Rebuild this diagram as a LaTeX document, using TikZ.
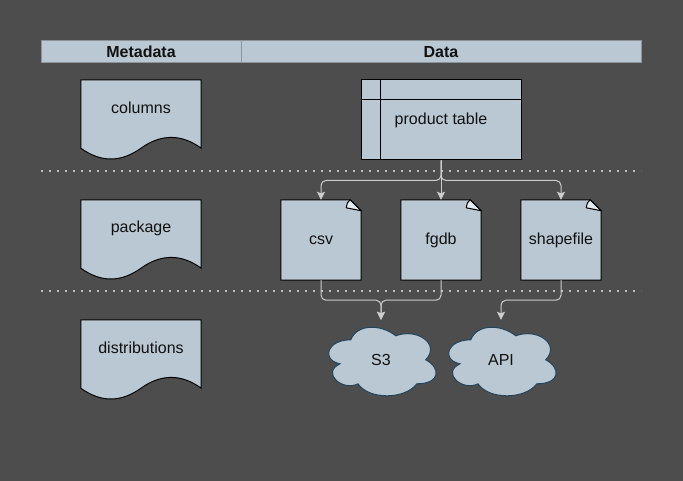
\documentclass[tikz,border=0pt]{standalone}
\usepackage{fontspec}
\setmainfont{Liberation Sans}
\usepackage{tikz}
\usepackage{xcolor}
\usetikzlibrary{arrows.meta,positioning,calc}
\definecolor{cBg}{HTML}{4D4D4D}
\definecolor{cFill}{HTML}{BAC8D3}
\definecolor{cFold}{HTML}{E4EBF0}
\definecolor{cEdge}{HTML}{CCCCCC}
\definecolor{cDot}{HTML}{C4C4C4}
\definecolor{cHdr}{HTML}{8C9499}
\definecolor{cCloud}{HTML}{23445D}
\definecolor{cInk}{HTML}{111111}
\pgfdeclarelayer{canvas}
\pgfdeclarelayer{shapes}
\pgfsetlayers{canvas,shapes,main}
\tikzset{
  lbl/.style     ={font=\fontsize{16pt}{18pt}\selectfont,text=cInk,inner sep=0pt},
  hdr/.style     ={lbl,font=\fontsize{16pt}{18pt}\selectfont\bfseries,draw=cHdr,
                   fill=cFill,minimum height=22pt,line width=1pt},
  docnode/.style ={lbl,minimum width=120pt,minimum height=56pt},
  filenode/.style={lbl,minimum width=80pt,minimum height=80pt},
  tblnode/.style ={lbl,draw=black,fill=cFill,line width=1pt,
                   minimum width=160pt,minimum height=80pt},
  cloudnode/.style={lbl,minimum width=120pt,minimum height=80pt},
  docline/.style ={draw=black,fill=cFill,line width=1pt},
  foldline/.style={draw=black,fill=cFold,line width=1pt,line join=round},
  cloudline/.style={draw=cCloud,fill=cFill,line width=1pt},
  conn/.style    ={-{Stealth[length=8pt,width=8pt,inset=1.5pt]},cEdge,
                   line width=1pt,rounded corners=5pt},
  sep/.style     ={cDot,line width=2pt,dash pattern=on 2pt off 6pt},
}
% drawn shapes round the named nodes
\newcommand\wavydoc[1]{%
  \begin{pgfonlayer}{shapes}
  \draw[docline] (#1.north west) -- (#1.north east) -- ([yshift=-12pt]#1.south east)
    .. controls ([xshift=-20pt,yshift=2.4pt]#1.south east)
    and ([xshift=-40pt,yshift=2.4pt]#1.south east) .. ([yshift=-12pt]#1.south)
    .. controls ([xshift=-20pt,yshift=-26.4pt]#1.south)
    and ([xshift=20pt,yshift=-26.4pt]#1.south west) .. ([yshift=-12pt]#1.south west)
    -- cycle;
  \end{pgfonlayer}}
\newcommand\foldfile[1]{%
  \begin{pgfonlayer}{shapes}
  \draw[docline] (#1.north west) -- ([xshift=-11pt]#1.north east)
    -- ([yshift=-11pt]#1.north east) -- (#1.south east) -- (#1.south west) -- cycle;
  \draw[foldline] ([xshift=-11pt]#1.north east)
    .. controls ([xshift=-14pt,yshift=-3pt]#1.north east) .. ([xshift=-15pt,yshift=-8pt]#1.north east)
    -- ([yshift=-11pt]#1.north east) -- cycle;
  \end{pgfonlayer}}
\newcommand\cloudshape[1]{%
  \begin{pgfonlayer}{shapes}
  \begin{scope}[shift={(#1.north west)},x=120pt,y=-80pt]
  \draw[cloudline] (0.25,0.25) .. controls (0.05,0.25) and (0,0.5) .. (0.16,0.55)
    .. controls (0,0.66) and (0.18,0.9) .. (0.31,0.8)
    .. controls (0.4,1) and (0.7,1) .. (0.8,0.8)
    .. controls (1,0.8) and (1,0.6) .. (0.875,0.5)
    .. controls (1,0.3) and (0.8,0.1) .. (0.625,0.2)
    .. controls (0.5,0.05) and (0.3,0.05) .. (0.25,0.25) -- cycle;
  \end{scope}
  \end{pgfonlayer}}

\begin{document}
\begin{tikzpicture}[x=1pt,y=-1pt]
\begin{pgfonlayer}{canvas}
  \fill[cBg] (0,0) rectangle (683,481);
\end{pgfonlayer}
\useasboundingbox (0,0) rectangle (683,481);

% header bar
\node[hdr,minimum width=200pt] (meta) at (141,52) {Metadata};
\node[hdr,minimum width=400pt] (data) at (441,52) {Data};

% row separators
\draw[sep] (41,171) -- (641,171);
\draw[sep] (41,291) -- (641,291);

% metadata column
\node[docnode] (cols) at (141,108) {columns};
\node[docnode] (pkg)  at (141,228) {package};
\node[docnode] (dist) at (141,348) {distributions};
\foreach \n in {cols,pkg,dist} {\wavydoc{\n}}

% data column: table
\node[tblnode] (tbl) at (441,120) {product table};
\draw[line width=1pt] ([xshift=20pt]tbl.north west) -- ([xshift=20pt]tbl.south west);
\draw[line width=1pt] ([yshift=-20pt]tbl.north west) -- ([yshift=-20pt]tbl.north east);

% data column: files
\node[filenode] (csv)  at (321,240) {csv};
\node[filenode] (fgdb) at (441,240) {fgdb};
\node[filenode] (shp)  at (561,240) {shapefile};
\foreach \n in {csv,fgdb,shp} {\foldfile{\n}}

% data column: stores
\node[cloudnode] (s3)  at (381,360) {S3};
\node[cloudnode] (api) at (501,360) {API};
\foreach \n in {s3,api} {\cloudshape{\n}}

% connectors
\draw[conn] (tbl.south) -- (fgdb.north);
\draw[conn] (tbl.south) -- ([yshift=-20pt]tbl.south) -| (csv.north);
\draw[conn] (tbl.south) -- ([yshift=-20pt]tbl.south) -| (shp.north);
\draw[conn] (csv.south) -- ([yshift=-20pt]csv.south) -| (s3.north);
\draw[conn] (fgdb.south) -- ([yshift=-20pt]fgdb.south) -| (s3.north);
\draw[conn] (shp.south) -- ([yshift=-20pt]shp.south) -| (api.north);
\end{tikzpicture}
\end{document}
